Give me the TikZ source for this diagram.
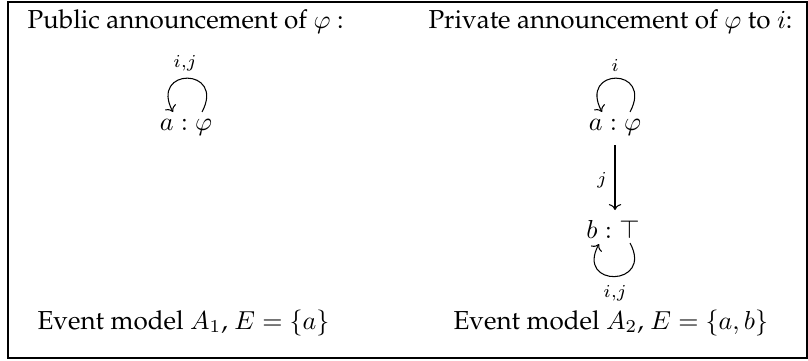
\documentclass[tikz,border=0pt]{standalone}
\usepackage[T1]{fontenc}
\renewcommand{\rmdefault}{ppl}
\usetikzlibrary{arrows.meta}
\begin{document}
\begin{tikzpicture}[x=1pt,y=-1pt,
  every node/.style={scale=2.6,inner sep=0pt},
  lbl/.style={font=\scriptsize},
  conn/.style={line width=1.05pt,-{Computer Modern Rightarrow[scale=1.5]}},
  frame/.style={line width=1.05pt}]
\useasboundingbox (0,0) rectangle (808,361);
\draw[frame] (8,2) rectangle (807,358);
% titles
\node[anchor=base west] (tl) at (27,29) {Public announcement of $\varphi$ :};
\node[anchor=base west] (tr) at (428,29) {Private announcement of $\varphi$ to $i$:};
% bottom captions
\node[anchor=base west] (bl) at (37,329) {Event model $A_1$, $E=\{a\}$};
\node[anchor=base west] (br) at (453,329) {Event model $A_2$, $E=\{a,b\}$};
% left model
\node (a1) at (186,127) {$a:\varphi$};
\coordinate (a1s) at ([shift={(16,-15)}]a1.center);
\coordinate (a1e) at ([shift={(-13,-15)}]a1.center);
\draw[conn] (a1s) .. controls +(24,-45) and +(-24,-45) .. (a1e);
\node[lbl] (l1) at (185,63) {$i{,}j$};
% right model
\node (a2) at (615,127) {$a:\varphi$};
\node (b2) at (613,229) {$b:\top$};
\coordinate (a2s) at ([shift={(15,-15)}]a2.center);
\coordinate (a2e) at ([shift={(-13,-15)}]a2.center);
\draw[conn] (a2s) .. controls +(24,-45) and +(-24,-45) .. (a2e);
\node[lbl] (l2) at (615,65) {$i$};
\coordinate (as) at ([shift={(0,18)}]a2.center);
\coordinate (bt) at ([shift={(2,-19)}]b2.center);
\draw[conn] (as) -- (bt);
\node[lbl] (lj) at (602,180) {$j$};
\coordinate (b2s) at ([shift={(17,14)}]b2.center);
\coordinate (b2e) at ([shift={(-14,15)}]b2.center);
\draw[conn] (b2s) .. controls +(24,44) and +(-24,44) .. (b2e);
\node[lbl] (l3) at (615,293) {$i{,}j$};
\end{tikzpicture}
\end{document}
